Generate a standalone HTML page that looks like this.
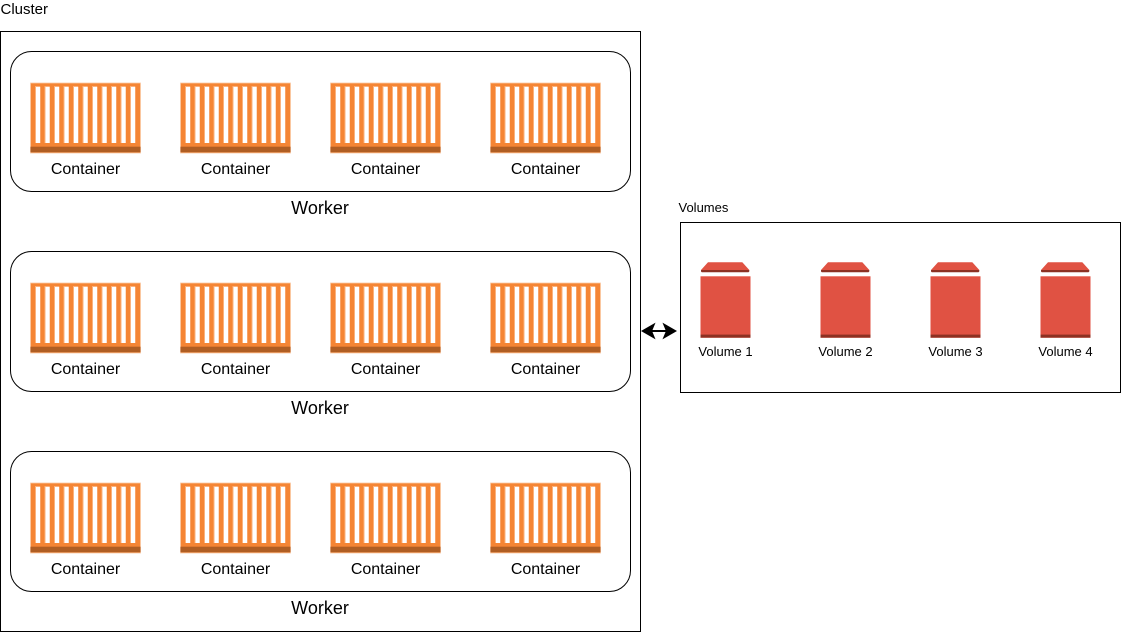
<!DOCTYPE html>
<html>
<head>
<meta charset="utf-8">
<style>
html,body{margin:0;padding:0;background:#fff;width:1121px;height:632px;overflow:hidden}
svg{display:block}
text{font-family:"Liberation Sans",sans-serif;fill:#000}
.c{font-size:16px;text-anchor:middle}
.w{font-size:18px;text-anchor:middle}
.v{font-size:13px;text-anchor:middle}
</style>
</head>
<body>
<svg width="1121" height="632" viewBox="0 0 1121 632" xmlns="http://www.w3.org/2000/svg">
<defs>
<g id="ct">
<rect x=".5" y=".5" width="110" height="70" fill="#f58534" stroke="#fbc9a3" stroke-width=".8"/>
<g fill="#fbb27d">
<rect x="5" y="3.5" width="5.2" height="57"/><rect x="14.5" y="3.5" width="5.2" height="57"/><rect x="24" y="3.5" width="5.2" height="57"/><rect x="33.5" y="3.5" width="5.2" height="57"/><rect x="43" y="3.5" width="5.2" height="57"/><rect x="52.5" y="3.5" width="5.2" height="57"/><rect x="62" y="3.5" width="5.2" height="57"/><rect x="71.5" y="3.5" width="5.2" height="57"/><rect x="81" y="3.5" width="5.2" height="57"/><rect x="90.5" y="3.5" width="5.2" height="57"/><rect x="100" y="3.5" width="5.2" height="57"/>
</g>
<g fill="#fff">
<rect x="6" y="4.5" width="4.2" height="56"/><rect x="15.5" y="4.5" width="4.2" height="56"/><rect x="25" y="4.5" width="4.2" height="56"/><rect x="34.5" y="4.5" width="4.2" height="56"/><rect x="44" y="4.5" width="4.2" height="56"/><rect x="53.5" y="4.5" width="4.2" height="56"/><rect x="63" y="4.5" width="4.2" height="56"/><rect x="72.5" y="4.5" width="4.2" height="56"/><rect x="82" y="4.5" width="4.2" height="56"/><rect x="91.5" y="4.5" width="4.2" height="56"/><rect x="101" y="4.5" width="4.2" height="56"/>
</g>
<rect x=".5" y="64.2" width="110" height="5.6" fill="#b05e23"/>
</g>
<g id="vol">
<path d="M8 .3H42.3L49.3 8H1Z" fill="#e05243"/>
<path d="M1 8H49.3V9.5L48.5 10.3H1.8L1 9.5Z" fill="#8c3123"/>
<rect x=".5" y="14.3" width="50" height="61.5" fill="#e05243"/>
<rect x=".5" y="72.6" width="50" height="3" fill="#8c3123"/>
</g>
</defs>

<rect x=".5" y="31.5" width="640" height="600" fill="#fff" stroke="#000"/>
<rect x="10.5" y="51.5" width="620" height="140" rx="21" fill="#fff" stroke="#000"/>
<rect x="10.5" y="251.5" width="620" height="140" rx="21" fill="#fff" stroke="#000"/>
<rect x="10.5" y="451.5" width="620" height="140" rx="21" fill="#fff" stroke="#000"/>
<rect x="680.5" y="222.5" width="440" height="170" fill="#fff" stroke="#000"/>

<use href="#ct" x="30" y="82.5"/><use href="#ct" x="180" y="82.5"/><use href="#ct" x="330" y="82.5"/><use href="#ct" x="490" y="82.5"/>
<use href="#ct" x="30" y="282.5"/><use href="#ct" x="180" y="282.5"/><use href="#ct" x="330" y="282.5"/><use href="#ct" x="490" y="282.5"/>
<use href="#ct" x="30" y="482.5"/><use href="#ct" x="180" y="482.5"/><use href="#ct" x="330" y="482.5"/><use href="#ct" x="490" y="482.5"/>

<text x="85.5" y="174" class="c">Container</text><text x="235.5" y="174" class="c">Container</text><text x="385.5" y="174" class="c">Container</text><text x="545.5" y="174" class="c">Container</text>
<text x="85.5" y="374" class="c">Container</text><text x="235.5" y="374" class="c">Container</text><text x="385.5" y="374" class="c">Container</text><text x="545.5" y="374" class="c">Container</text>
<text x="85.5" y="574" class="c">Container</text><text x="235.5" y="574" class="c">Container</text><text x="385.5" y="574" class="c">Container</text><text x="545.5" y="574" class="c">Container</text>

<text x="320" y="214" class="w">Worker</text>
<text x="320" y="414" class="w">Worker</text>
<text x="320" y="614" class="w">Worker</text>

<text x=".5" y="14" style="font-size:15px">Cluster</text>
<text x="678.5" y="212" style="font-size:13px">Volumes</text>

<use href="#vol" x="700" y="262"/><use href="#vol" x="820" y="262"/><use href="#vol" x="930" y="262"/><use href="#vol" x="1040" y="262"/>
<text x="725.5" y="356" class="v">Volume 1</text><text x="845.5" y="356" class="v">Volume 2</text><text x="955.5" y="356" class="v">Volume 3</text><text x="1065.5" y="356" class="v">Volume 4</text>

<path d="M650 331H668" stroke="#000" stroke-width="2"/>
<path d="M643 331L653.5 325L651 331L653.5 337Z" fill="#000" stroke="#000" stroke-width="2"/>
<path d="M675 331L664.5 325L667 331L664.5 337Z" fill="#000" stroke="#000" stroke-width="2"/>
</svg>
</body>
</html>
